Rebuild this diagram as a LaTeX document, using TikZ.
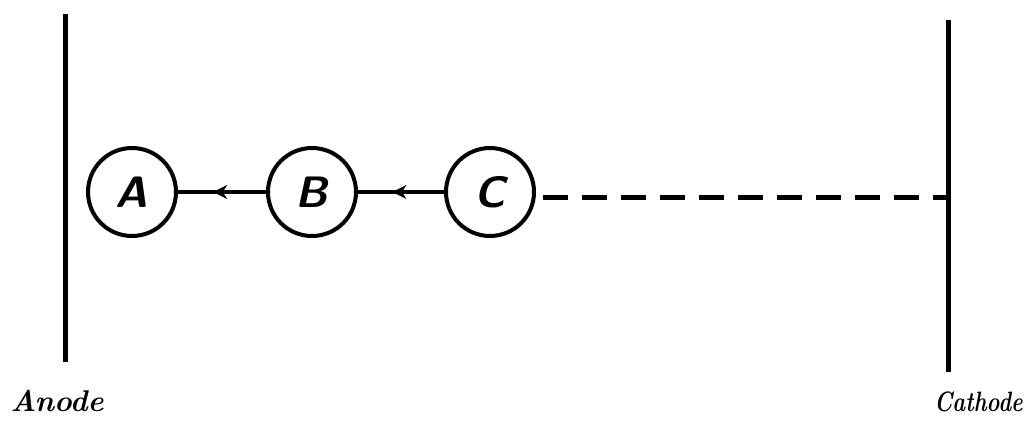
\documentclass[tikz,border=0pt]{standalone}
\usepackage{fontspec}
\usetikzlibrary{decorations.markings,arrows.meta}
\begin{document}
\begin{tikzpicture}[x=1pt,y=-1pt,
  electrode/.style={line width=5pt},
  ion/.style={circle,draw,line width=4pt,minimum size=88pt,inner sep=0pt,
    font=\sffamily\bfseries\itshape\fontsize{44}{44}\selectfont},
  flow/.style={line width=4pt,postaction={decorate},
    decoration={markings,mark=at position 0.6 with {\arrow{Stealth[length=14pt,width=14pt]}}}},
  path/.style={line width=5pt,dash pattern=on 25pt off 14pt},
  lbl/.style={font=\bfseries\itshape\fontsize{28}{28}\selectfont,anchor=base,inner sep=0pt}]
\useasboundingbox (0,0) rectangle (1026,421);
\coordinate (an1) at (65,14);
\coordinate (an2) at (65,362);
\coordinate (ca1) at (948,20);
\coordinate (ca2) at (948,372);
\draw[electrode] (an1) -- (an2);
\draw[electrode] (ca1) -- (ca2);
\node[ion] (A) at (132,192) {A};
\node[ion] (B) at (312,192) {B};
\node[ion] (C) at (490,192) {C};
\coordinate (cd) at (948,197);
\draw[flow] (B) -- (A);
\draw[flow] (C) -- (B);
\draw[path] (C.east) ++(7,5) -- (cd);
\node[lbl,font=\bfseries\itshape\fontsize{30}{30}\selectfont] (anl) at (57,411) {Anode};
\node[lbl,anchor=base east] (cal) at (1023,411) {\scalebox{0.78}[1]{Cathode}};
\end{tikzpicture}
\end{document}
